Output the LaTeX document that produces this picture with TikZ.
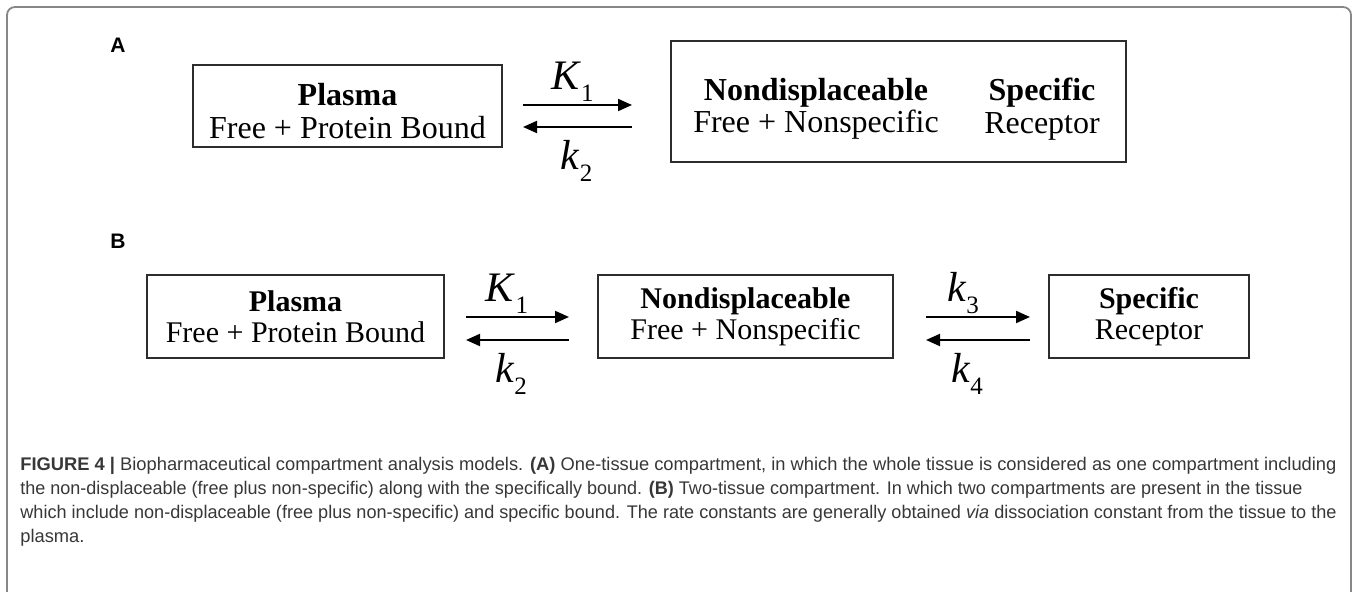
\documentclass[tikz,border=0pt]{standalone}
\usepackage{fontspec}
\setmainfont{Liberation Serif}
\newfontfamily\capfont{Liberation Sans}
\usetikzlibrary{arrows.meta,positioning}
\definecolor{cpframe}{RGB}{135,135,135}
\definecolor{cpline}{RGB}{45,45,45}
\definecolor{cptext}{RGB}{55,55,55}
\newcommand{\ratek}[2]{\textit{#1}\raisebox{-6pt}{\fontsize{12.5}{12.5}\selectfont #2}}
\newcommand{\capline}[2]{\resizebox{#1}{\height}{#2}}
\tikzset{
  cpbox/.style={draw=cpline, line width=1pt, align=center, inner sep=0pt, font=\fontsize{15}{15.5}\selectfont},
  cpinner/.style={align=center, inner sep=0pt, font=\fontsize{16}{16.3}\selectfont},
  cparr/.style={-{Triangle[length=7pt,width=6pt]}, line width=1pt, draw=black},
  cprate/.style={font=\fontsize{21}{21}\selectfont, inner sep=0pt},
  cppanel/.style={font=\capfont\bfseries\fontsize{10.5}{10.5}\selectfont, inner sep=0pt},
  cpcap/.style={anchor=west, inner sep=0pt, text=cptext, font=\capfont\fontsize{9.15}{11}\selectfont}
}
\begin{document}
\begin{tikzpicture}[x=0.5pt, y=-0.5pt]
  \useasboundingbox (0,0) rectangle (1358,592);
  % frame round the figure, open at the bottom
  \draw[cpframe, line width=0.9pt, rounded corners=4pt] (7,620) -- (7,7) -- (1351,7) -- (1351,620);

  % (A) one-tissue compartment
  \node[cppanel] (labA) at (118,45) {A};
  \node[cpbox, minimum width=154.5pt, minimum height=41pt] (plasmaA) at (347.5,106) {};
  \node[cpinner] (plasmaAtxt) at (347.5,111) {\textbf{Plasma}\\Free + Protein Bound};
  \node[cpbox, minimum width=227.5pt, minimum height=60.5pt] (tissueA) at (898.5,102) {};
  \node[cpinner] (nondA) at (816,109) {\textbf{Nondisplaceable}\\Free + Nonspecific};
  \node[cpinner] (specA) at (1042,109) {\textbf{Specific}\\Receptor};
  \draw[cparr, shorten <=10pt, shorten >=19pt] ([yshift=0.5pt]plasmaA.east) -- ([yshift=0.5pt]plasmaA.east -| tissueA.west)
    node[cprate, midway, above=1pt, xshift=-7pt] (kA1) {\ratek{K}{1}};
  \draw[cparr, shorten <=19pt, shorten >=10pt] ([yshift=-10.5pt]plasmaA.east -| tissueA.west) -- ([yshift=-10.5pt]plasmaA.east)
    node[cprate, midway, below=6pt, xshift=-5pt] (kA2) {\ratek{k}{2}};

  % (B) two-tissue compartment
  \node[cppanel] (labB) at (118,241) {B};
  \node[cpbox, minimum width=148.5pt, minimum height=41.5pt] (plasmaB) at (295.5,317) {\textbf{Plasma}\\Free + Protein Bound};
  \node[cpbox, minimum width=147.5pt, minimum height=41.5pt] (nondB) at (745.5,317) {\textbf{Nondisplaceable}\\Free + Nonspecific};
  \node[cpbox, minimum width=100pt, minimum height=41.5pt] (specB) at (1149,317) {\textbf{Specific}\\Receptor};
  \draw[cparr, shorten <=10.5pt, shorten >=14pt] (plasmaB.east) -- (plasmaB.east -| nondB.west)
    node[cprate, midway, above=1pt, xshift=-7pt] (kB1) {\ratek{K}{1}};
  \draw[cparr, shorten <=14pt, shorten >=10.5pt] ([yshift=-11.5pt]plasmaB.east -| nondB.west) -- ([yshift=-11.5pt]plasmaB.east)
    node[cprate, midway, below=6pt, xshift=-5pt] (kB2) {\ratek{k}{2}};
  \draw[cparr, shorten <=16pt, shorten >=9pt] (nondB.east) -- (nondB.east -| specB.west)
    node[cprate, midway, above=1pt, xshift=-4pt] (kB3) {\ratek{k}{3}};
  \draw[cparr, shorten <=9pt, shorten >=16pt] ([yshift=-11.5pt]nondB.east -| specB.west) -- ([yshift=-11.5pt]nondB.east)
    node[cprate, midway, below=6pt, xshift=-2pt] (kB4) {\ratek{k}{4}};

  % caption
  \node[cpcap] (cap1) at (20,466) {\capline{658pt}{\textbf{FIGURE 4 |} Biopharmaceutical compartment analysis models. \textbf{(A)} One-tissue compartment, in which the whole tissue is considered as one compartment including}};
  \node[cpcap] (cap2) at (20,490) {\capline{641pt}{the non-displaceable (free plus non-specific) along with the specifically bound. \textbf{(B)} Two-tissue compartment. In which two compartments are present in the tissue}};
  \node[cpcap] (cap3) at (20,514) {\capline{658pt}{which include non-displaceable (free plus non-specific) and specific bound. The rate constants are generally obtained \textit{via} dissociation constant from the tissue to the}};
  \node[cpcap] (cap4) at (20,538) {plasma.};
\end{tikzpicture}
\end{document}
